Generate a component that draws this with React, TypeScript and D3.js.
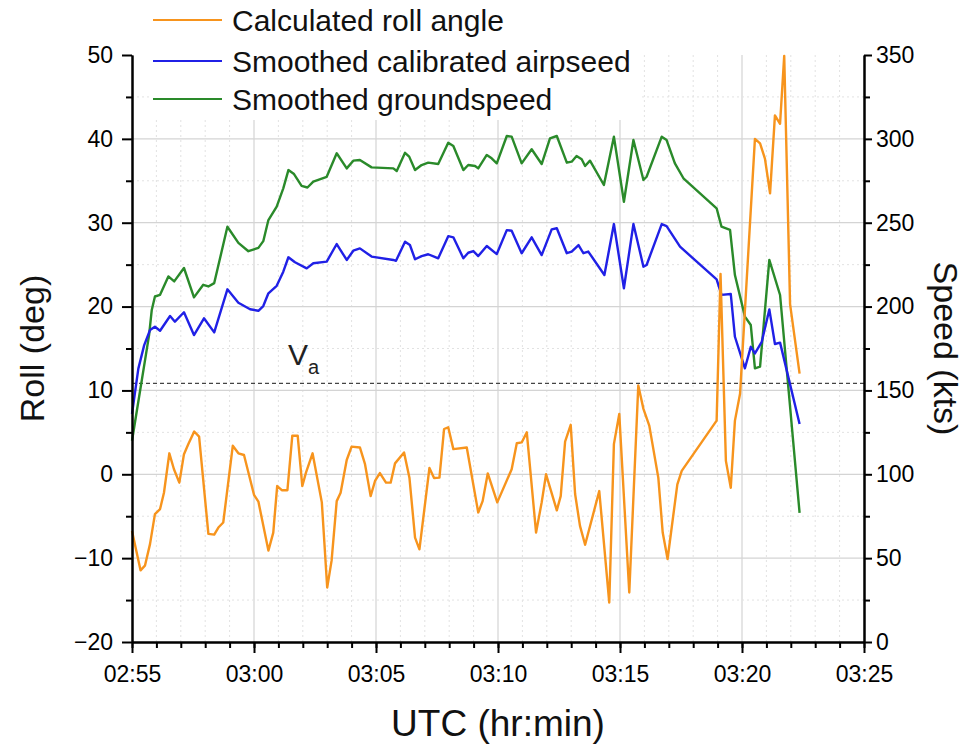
import { useRef, useEffect } from 'react';
import * as d3 from 'd3';

// minutes after 02:55 UTC
const rollTime = [0, 0.35, 0.53, 0.74, 0.94, 1.15, 1.31, 1.53, 1.72, 1.94, 2.13, 2.31, 2.55, 2.75, 3.13, 3.37, 3.54, 3.74, 4.13, 4.36, 4.59, 5.0, 5.18, 5.59, 5.79, 5.95, 6.14, 6.37, 6.57, 6.79, 6.98, 7.13, 7.4, 7.78, 8.0, 8.18, 8.39, 8.55, 8.8, 9.0, 9.34, 9.55, 9.78, 9.96, 10.16, 10.41, 10.6, 10.78, 11.15, 11.37, 11.6, 11.78, 12.19, 12.38, 12.6, 12.79, 12.96, 13.17, 13.72, 14.19, 14.37, 14.58, 14.97, 15.56, 15.77, 15.97, 16.18, 16.56, 16.79, 16.97, 17.41, 17.57, 17.75, 17.98, 18.16, 18.36, 18.57, 19.15, 19.56, 19.75, 19.97, 20.38, 20.75, 20.96, 21.2, 21.57, 21.75, 21.95, 22.35, 22.53, 23.96, 24.12, 24.34, 24.54, 24.71, 24.92, 25.53, 25.74, 25.94, 26.15, 26.35, 26.56, 26.73, 26.97, 27.36];
const rollDeg = [-6.75, -11.45, -10.9, -8.3, -4.75, -4.15, -2.2, 2.5, 0.6, -1, 2.4, 3.6, 5.1, 4.5, -7.1, -7.2, -6.35, -5.75, 3.4, 2.5, 2.3, -2.45, -3.25, -9.1, -6.95, -1.4, -1.9, -1.9, 4.6, 4.6, -1.4, 0.2, 2.5, -3.35, -13.5, -10.3, -3.2, -2.2, 1.7, 3.3, 3.2, 1.2, -2.6, -0.8, 0.15, -1, -1, 1.3, 2.6, -0.4, -7.55, -8.95, 0.75, -0.45, -0.4, 5.4, 5.6, 3.0, 3.2, -4.55, -3.2, 0.1, -3.35, 0.6, 3.7, 3.8, 5.0, -6.95, -3.35, 0, -4.3, -2.6, 3.9, 5.9, -2.35, -6.15, -8.4, -2, -15.3, 3.6, 7.2, -14.1, 10.6, 7.8, 5.8, -0.4, -6.95, -10.1, -1.2, 0.4, 6.4, 23.9, 1.6, -1.6, 6.4, 9.6, 40, 39.45, 37.65, 33.5, 42.8, 41.8, 49.9, 20.3, 12];

const casTime = [0, 0.26, 0.5, 0.74, 0.94, 1.15, 1.56, 1.76, 2.13, 2.54, 2.95, 3.37, 3.91, 4.36, 4.84, 5.18, 5.38, 5.59, 5.93, 6.2, 6.41, 6.68, 7.16, 7.43, 7.98, 8.39, 8.8, 9.07, 9.34, 9.82, 10.71, 10.82, 11.19, 11.39, 11.6, 11.87, 12.14, 12.55, 12.96, 13.17, 13.58, 13.78, 13.99, 14.19, 14.54, 14.95, 15.36, 15.56, 15.97, 16.38, 16.79, 17.2, 17.41, 17.82, 18.02, 18.3, 18.5, 18.7, 19.36, 19.75, 20.16, 20.55, 20.96, 21.09, 21.71, 21.91, 22.46, 23.96, 24.16, 24.54, 24.71, 25.12, 25.36, 25.53, 25.81, 26.12, 26.35, 26.56, 27.36];
const casKts = [136, 163, 177, 186, 188, 185.6, 194.4, 191, 196.6, 183, 193, 184.6, 210.3, 202.3, 198.4, 197.5, 200.3, 207.9, 212.4, 220.8, 229.4, 226.4, 222.8, 225.8, 226.8, 237.3, 227.8, 233.3, 234.7, 229.8, 227.8, 227.3, 238.7, 236.7, 228.2, 230.1, 231.2, 228.8, 242, 241.3, 228.8, 232.1, 233.1, 230.1, 236.1, 231.3, 245.6, 245.2, 231.8, 241.3, 230.7, 246, 246.7, 231.8, 232.8, 236.7, 231.8, 232.8, 218.8, 249.2, 210.9, 249.2, 223.8, 224.8, 249.2, 248, 235.7, 216.2, 207, 207.5, 182, 163.2, 176, 172.1, 179, 198.3, 177.7, 178.5, 130];

const gsTime = [0, 0.7, 0.81, 0.94, 1.15, 1.49, 1.73, 2.13, 2.54, 2.92, 3.13, 3.37, 3.91, 4.36, 4.77, 5.18, 5.38, 5.59, 5.93, 6.2, 6.41, 6.64, 6.95, 7.19, 7.43, 7.98, 8.39, 8.8, 9.07, 9.34, 9.82, 10.71, 10.85, 11.19, 11.36, 11.6, 11.87, 12.14, 12.55, 12.96, 13.17, 13.58, 13.78, 14.06, 14.19, 14.54, 14.74, 14.95, 15.36, 15.56, 15.97, 16.38, 16.79, 17.13, 17.41, 17.82, 18.02, 18.22, 18.43, 18.57, 18.77, 19.34, 19.75, 20.16, 20.55, 20.96, 21.09, 21.71, 21.91, 22.25, 22.6, 23.96, 24.16, 24.51, 24.71, 25.12, 25.36, 25.53, 25.74, 26.12, 26.56, 27.36];
const gsKts = [120, 183, 198, 206, 207, 218, 215, 223, 205.5, 213, 212, 214, 247.6, 238, 233, 235, 239, 251.6, 259.6, 270.5, 281.4, 279, 272, 271, 274.5, 277.4, 291.4, 282.4, 287, 287.4, 283, 282.4, 280.8, 291.7, 289.4, 281.4, 284.4, 285.8, 285, 297.7, 295.7, 281.4, 284.4, 283.8, 282.4, 290.4, 288.4, 285.4, 301.7, 301.3, 285.4, 293.8, 285, 300.3, 301.7, 285.8, 286.4, 289.8, 287.8, 283.8, 287, 272.5, 301.3, 262.5, 299.3, 275.5, 277.4, 301.3, 299.3, 285.4, 276.5, 258.6, 247.6, 245.7, 218.8, 194, 189, 163.2, 164.2, 227.8, 206.9, 77];

const vaKts = 154.2;
const legendLabels = ['Calculated roll angle', 'Smoothed calibrated airpseed', 'Smoothed groundspeed'];
const colors = ['#F7941D', '#2020E6', '#2A8A2A'];

const t0 = Date.UTC(2020, 0, 1, 2, 55);
const toDate = (m: number) => new Date(t0 + m * 60000);

function App() {
  const svgRef = useRef<SVGSVGElement>(null);

  useEffect(() => {
    const svg = d3.select(svgRef.current);
    svg.selectAll('*').remove();

    const W = 968, H = 746;
    const left = 132, right = 864, top = 55, bottom = 642;
    const font = '"Liberation Sans", Arial, sans-serif';

    const x = d3.scaleUtc().domain([toDate(0), toDate(30)]).range([left, right]);
    const yL = d3.scaleLinear().domain([-20, 50]).range([bottom, top]);
    const yR = d3.scaleLinear().domain([0, 350]).range([bottom, top]);

    svg.attr('width', W).attr('height', H).style('display', 'block')
      .style('position', 'absolute').style('left', 0).style('top', 0);
    svg.append('rect').attr('width', W).attr('height', H).attr('fill', '#fff');

    // grid
    const grid = svg.append('g');
    const minorX = x.ticks(d3.utcMinute.every(1));
    const majorX = x.ticks(d3.utcMinute.every(5));
    minorX.forEach(d => {
      const isMajor = majorX.some(m => +m === +d);
      if (+d === +toDate(0) || +d === +toDate(30)) return;
      grid.append('line')
        .attr('x1', x(d)).attr('x2', x(d)).attr('y1', top).attr('y2', bottom)
        .attr('stroke', isMajor ? '#d4d4d4' : '#e2e2e2')
        .attr('stroke-width', isMajor ? 1.2 : 1)
        .attr('stroke-dasharray', isMajor ? null : '2,3');
    });
    d3.range(-15, 50, 5).forEach(v => {
      const isMajor = v % 10 === 0;
      grid.append('line')
        .attr('x1', left).attr('x2', right).attr('y1', yL(v)).attr('y2', yL(v))
        .attr('stroke', isMajor ? '#d4d4d4' : '#e2e2e2')
        .attr('stroke-width', isMajor ? 1.2 : 1)
        .attr('stroke-dasharray', isMajor ? null : '2,3');
    });

    // Va reference line
    svg.append('line')
      .attr('x1', left).attr('x2', right).attr('y1', yR(vaKts)).attr('y2', yR(vaKts))
      .attr('stroke', '#444').attr('stroke-width', 1.2).attr('stroke-dasharray', '4,3');
    const va = svg.append('text').attr('x', 288).attr('y', yR(vaKts) - 18)
      .style('font-family', font).style('font-size', '30px').attr('fill', '#222');
    va.append('tspan').text('V');
    va.append('tspan').attr('dy', 9).style('font-size', '20px').text('a');

    // series
    const lineL = d3.line<[number, number]>().x(d => x(toDate(d[0]))).y(d => yL(d[1]));
    const lineR = d3.line<[number, number]>().x(d => x(toDate(d[0]))).y(d => yR(d[1]));
    const series = [
      { path: lineR(gsTime.map((t, i) => [t, gsKts[i]] as [number, number])), color: colors[2] },
      { path: lineR(casTime.map((t, i) => [t, casKts[i]] as [number, number])), color: colors[1] },
      { path: lineL(rollTime.map((t, i) => [t, rollDeg[i]] as [number, number])), color: colors[0] },
    ];
    series.forEach(s => {
      svg.append('path').attr('d', s.path).attr('fill', 'none')
        .attr('stroke', s.color).attr('stroke-width', 2.4).attr('stroke-linejoin', 'round');
    });

    // legend
    const lg = svg.append('g');
    lg.append('rect').attr('x', 150).attr('y', 0).attr('width', 490).attr('height', 120).attr('fill', '#fff');
    const rows = [20, 61, 99];
    legendLabels.forEach((label, i) => {
      lg.append('line').attr('x1', 153).attr('x2', 222).attr('y1', rows[i]).attr('y2', rows[i])
        .attr('stroke', colors[i]).attr('stroke-width', 1.8);
      lg.append('text').attr('x', 232).attr('y', rows[i] + 10.5)
        .style('font-family', font).style('font-size', '30px').attr('fill', '#111')
        .text(label);
    });

    // axes
    const styleAxis = (g: any) => {
      g.select('.domain').attr('stroke', '#000').attr('stroke-width', 2);
      g.selectAll('.tick line').attr('stroke', '#000').attr('stroke-width', 2);
      g.selectAll('.tick text').style('font-family', font).style('font-size', '23px').attr('fill', '#000');
    };

    const ax = svg.append('g').attr('transform', `translate(0,${bottom})`);
    ax.call(d3.axisBottom(x).ticks(d3.utcMinute.every(1)).tickSize(6).tickSizeOuter(0).tickFormat(() => ''));
    ax.call(styleAxis);
    const axM = svg.append('g').attr('transform', `translate(0,${bottom})`);
    axM.call(d3.axisBottom(x).ticks(d3.utcMinute.every(5)).tickSize(11).tickSizeOuter(0)
      .tickFormat(d3.utcFormat('%H:%M') as any).tickPadding(13));
    axM.call(styleAxis);

    const ayl = svg.append('g').attr('transform', `translate(${left},0)`);
    ayl.call(d3.axisLeft(yL).tickValues(d3.range(-15, 50, 10)).tickSize(6).tickSizeOuter(0).tickFormat(() => ''));
    ayl.call(styleAxis);
    const aylM = svg.append('g').attr('transform', `translate(${left},0)`);
    aylM.call(d3.axisLeft(yL).tickValues(d3.range(-20, 51, 10)).tickSize(10).tickSizeOuter(0).tickPadding(9));
    aylM.call(styleAxis);

    const ayr = svg.append('g').attr('transform', `translate(${right},0)`);
    ayr.call(d3.axisRight(yR).tickValues(d3.range(25, 350, 50)).tickSize(6).tickSizeOuter(0).tickFormat(() => ''));
    ayr.call(styleAxis);
    const ayrM = svg.append('g').attr('transform', `translate(${right},0)`);
    ayrM.call(d3.axisRight(yR).tickValues(d3.range(0, 351, 50)).tickSize(8).tickSizeOuter(0).tickPadding(4));
    ayrM.call(styleAxis);

    // axis titles
    svg.append('text').attr('transform', `translate(44,${(top + bottom) / 2}) rotate(-90)`)
      .attr('text-anchor', 'middle').style('font-family', font).style('font-size', '34px').attr('fill', '#111')
      .text('Roll (deg)');
    svg.append('text').attr('transform', `translate(934,${(top + bottom) / 2}) rotate(90)`)
      .attr('text-anchor', 'middle').style('font-family', font).style('font-size', '34px').attr('fill', '#111')
      .text('Speed (kts)');
    svg.append('text').attr('x', (left + right) / 2).attr('y', 736)
      .attr('text-anchor', 'middle').style('font-family', font).style('font-size', '37px').attr('fill', '#111')
      .text('UTC (hr:min)');
  }, []);

  return <svg ref={svgRef}></svg>;
}

export default App;
